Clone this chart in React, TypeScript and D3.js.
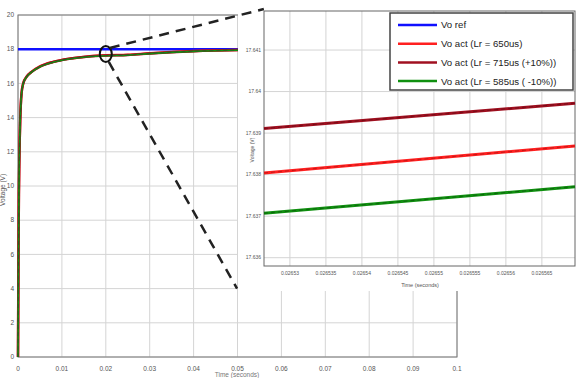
import React from "react";
import * as d3 from "d3";

// Main plot data
const mainT = [0, 0.0001, 0.0002, 0.0003, 0.0005, 0.0008, 0.0012, 0.002, 0.003, 0.005, 0.008, 0.012, 0.016, 0.02, 0.025, 0.03, 0.04, 0.05, 0.06, 0.08, 0.1];
const mainV = [0, 5.5, 9.5, 11.5, 13.8, 15.4, 16.0, 16.4, 16.65, 16.98, 17.25, 17.45, 17.57, 17.63, 17.66, 17.75, 17.88, 17.95, 17.98, 18.0, 18.0];
const refV = 18;
const xTicks = [0, 0.01, 0.02, 0.03, 0.04, 0.05, 0.06, 0.07, 0.08, 0.09, 0.1];
const yTicks = [0, 2, 4, 6, 8, 10, 12, 14, 16, 18, 20];

// Inset data
const insetT = [0.0265264, 0.0265696];
const insetDarkRed = [17.63911, 17.63972];
const insetRed = [17.63804, 17.63869];
const insetGreen = [17.63707, 17.63771];
const insetXTicks = [0.02653, 0.026535, 0.02654, 0.026545, 0.02655, 0.026555, 0.02656, 0.026565];
const insetXLabels = ["0.02653", "0.026535", "0.02654", "0.026545", "0.02655", "0.026555", "0.02656", "0.026565"];
const insetYTicks = [17.636, 17.637, 17.638, 17.639, 17.64, 17.641];
const insetYLabels = ["17.636", "17.637", "17.638", "17.639", "17.64", "17.641"];

const legendLabels = ["Vo ref", "Vo act (Lr = 650us)", "Vo act (Lr = 715us (+10%))", "Vo act (Lr = 585us ( -10%))"];
const legendColors = ["#1010ff", "#ff2020", "#a01020", "#109010"];

// zoom annotation (data coordinates of main plot)
const zoomCenter = { t: 0.02, v: 17.72 };
const zoomUpperEnd = { t: 0.056, v: 20.35 };
const zoomLowerEnd = { t: 0.0499, v: 4.0 };

const FONT = "'Liberation Sans', Arial, sans-serif";

export default function App() {
  const x = d3.scaleLinear().domain([0, 0.1]).range([18, 457]);
  const y = d3.scaleLinear().domain([0, 20]).range([357, 15]);
  const xi = d3.scaleLinear().domain([0.0265264, 0.0265696]).range([264, 575]);
  const yi = d3.scaleLinear().domain([17.6358, 17.64194]).range([266, 11]);

  const mainLine = d3.line<number>().x((d, i) => x(mainT[i])).y((d) => y(d)).curve(d3.curveMonotoneX);
  const offs = (k: number) => mainV.map((v, i) => (i === 0 ? v : v + k));

  const inLine = d3.line<number>().x((d, i) => xi(insetT[i])).y((d) => yi(d));

  const cx = x(zoomCenter.t);
  const cy = y(zoomCenter.v);

  return (
    <svg width={580} height={378} style={{ position: "absolute", left: 0, top: 0, background: "#fff" }}>
      {/* main grid */}
      {xTicks.map((t) => (
        <line key={"gx" + t} x1={x(t)} x2={x(t)} y1={y(0)} y2={y(20)} stroke="#d4d4d4" strokeWidth={1} />
      ))}
      {yTicks.map((v) => (
        <line key={"gy" + v} x1={x(0)} x2={x(0.1)} y1={y(v)} y2={y(v)} stroke="#d4d4d4" strokeWidth={1} />
      ))}
      <rect x={x(0)} y={y(20)} width={x(0.1) - x(0)} height={y(0) - y(20)} fill="none" stroke="#777" strokeWidth={1} />
      {xTicks.map((t) => (
        <text key={"tx" + t} x={x(t)} y={371} fontSize={6.5} fill="#555" textAnchor="middle" fontFamily={FONT}>
          {String(t)}
        </text>
      ))}
      {yTicks.map((v) => (
        <text key={"ty" + v} x={14} y={y(v) + 2.2} fontSize={6.5} fill="#555" textAnchor="end" fontFamily={FONT}>
          {v}
        </text>
      ))}
      <text x={0} y={0} transform={`translate(5,190) rotate(-90)`} fontSize={6.5} fill="#555" textAnchor="middle" fontFamily={FONT}>
        Voltage (V)
      </text>
      <text x={237} y={377} fontSize={6.5} fill="#777" textAnchor="middle" fontFamily={FONT}>
        Time (seconds)
      </text>

      {/* main curves */}
      <line x1={x(0)} x2={x(0.1)} y1={y(refV)} y2={y(refV)} stroke={legendColors[0]} strokeWidth={2.5} />
      <path d={mainLine(offs(0.01)) || ""} fill="none" stroke={legendColors[1]} strokeWidth={2.5} />
      <path d={mainLine(offs(0.0)) || ""} fill="none" stroke={legendColors[2]} strokeWidth={2.5} />
      <path d={mainLine(offs(-0.01)) || ""} fill="none" stroke={legendColors[3]} strokeWidth={1.6} />
      <path d={mainLine(offs(0)) || ""} fill="none" stroke="#333" strokeWidth={0.8} strokeDasharray="4 3" opacity={0.6} />

      {/* inset background (covers main plot incl. its tick label area) */}
      <rect x={238} y={0} width={342} height={291} fill="#fff" stroke="none" />

      {/* inset */}
      {insetXTicks.map((t) => (
        <line key={"igx" + t} x1={xi(t)} x2={xi(t)} y1={11} y2={266} stroke="#d4d4d4" strokeWidth={1} />
      ))}
      {insetYTicks.map((v) => (
        <line key={"igy" + v} x1={264} x2={575} y1={yi(v)} y2={yi(v)} stroke="#d4d4d4" strokeWidth={1} />
      ))}
      <rect x={264} y={11} width={311} height={255} fill="none" stroke="#666" strokeWidth={1} />
      {insetXTicks.map((t, i) => (
        <text key={"itx" + t} x={xi(t)} y={275} fontSize={5} fill="#555" textAnchor="middle" fontFamily={FONT}>
          {insetXLabels[i]}
        </text>
      ))}
      {insetYTicks.map((v, i) => (
        <text key={"ity" + v} x={261} y={yi(v) + 1.8} fontSize={5} fill="#555" textAnchor="end" fontFamily={FONT}>
          {insetYLabels[i]}
        </text>
      ))}
      <text x={420} y={287} fontSize={5.5} fill="#555" textAnchor="middle" fontFamily={FONT}>
        Time (seconds)
      </text>
      <text x={0} y={0} transform={`translate(254,150) rotate(-90)`} fontSize={5} fill="#555" textAnchor="middle" fontFamily={FONT}>
        Voltage (V)
      </text>
      {[
        { d: insetDarkRed, c: legendColors[2], dash: "#5a0810" },
        { d: insetRed, c: legendColors[1], dash: "#a01010" },
        { d: insetGreen, c: legendColors[3], dash: "#0a4a0a" },
      ].map((s, i) => (
        <g key={"il" + i}>
          <path d={inLine(s.d) || ""} fill="none" stroke={s.c} strokeWidth={3} />
          <path d={inLine(s.d) || ""} fill="none" stroke={s.dash} strokeWidth={1} strokeDasharray="4 3" opacity={0.6} />
        </g>
      ))}

      {/* legend */}
      <rect x={390} y={13} width={183} height={77} fill="#fff" stroke="#444" strokeWidth={1.5} />
      {legendLabels.map((l, i) => (
        <g key={"lg" + i}>
          <line x1={398} x2={437} y1={25 + i * 18.7} y2={25 + i * 18.7} stroke={legendColors[i]} strokeWidth={2.5} />
          <text x={441} y={25 + i * 18.7 + 3.4} fontSize={9.6} fill="#222" fontFamily={FONT}>
            {l}
          </text>
        </g>
      ))}

      {/* zoom annotation */}
      <ellipse cx={cx} cy={cy} rx={6} ry={8} fill="none" stroke="#111" strokeWidth={2} />
      <line x1={cx + 4} y1={cy - 6} x2={x(zoomUpperEnd.t)} y2={y(zoomUpperEnd.v)} stroke="#222" strokeWidth={2.5} strokeDasharray="10 7" />
      <line x1={cx + 3} y1={cy + 8} x2={x(zoomLowerEnd.t)} y2={y(zoomLowerEnd.v)} stroke="#222" strokeWidth={2.5} strokeDasharray="10 7" />
    </svg>
  );
}
